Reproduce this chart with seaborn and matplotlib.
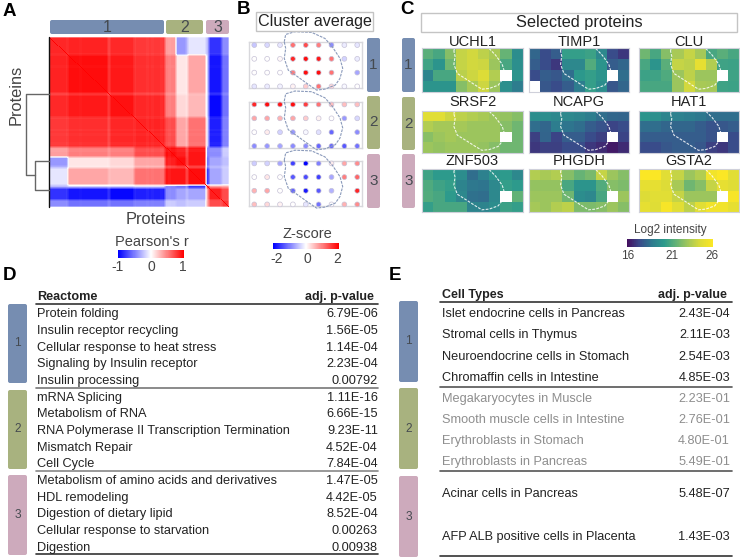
import numpy as np
import pandas as pd
import seaborn as sns
import matplotlib.pyplot as plt
from matplotlib.colors import LinearSegmentedColormap
from matplotlib.patches import FancyBboxPatch, Rectangle

sns.set_theme(style="white")
plt.rcParams['font.family'] = ['Liberation Sans', 'DejaVu Sans']

W, H = 740, 558
BLUE, GREEN, PINK = "#6f87ad", "#a4ae78", "#cba6b9"
CLUSTER_COLORS = [BLUE, GREEN, PINK]
TXT = "#222222"
INTENSITY = LinearSegmentedColormap.from_list(
    "intensity", ["#440f5f", "#3a4a8a", "#2d7a8e", "#2c9a8c", "#62b277", "#a2c75a", "#dcdc38", "#fbe725"])

# panel A: correlation by block, upper triangle of a symmetric matrix
seg_cells = [19, 41, 25, 31, 11, 12, 18, 3, 13, 7]
seg_corr = [
    [.85, .86, .84, .78, .38, -.40, -.10, -.30, -.80, -.45],
    [0, .95, .90, .82, .50, .10, .35, -.20, -.92, -.55],
    [0, 0, .93, .85, .50, .15, .28, -.20, -.97, -.55],
    [0, 0, 0, .86, .70, .35, .55, -.15, -.88, -.50],
    [0, 0, 0, 0, .95, .88, .92, -.50, -.45, -.20],
    [0, 0, 0, 0, 0, .95, .92, -.60, -.35, -.25],
    [0, 0, 0, 0, 0, 0, .95, -.85, -.35, -.20],
    [0, 0, 0, 0, 0, 0, 0, 1.0, .40, .35],
    [0, 0, 0, 0, 0, 0, 0, 0, .88, .70],
    [0, 0, 0, 0, 0, 0, 0, 0, 0, .78],
]
# proteins that correlate weakly with everything (the pale stripes)
pale_cells = [18, 31, 59, 60, 85, 98, 103, 112, 120, 137, 138, 157, 172]
pale_factor = [.9, .95, .8, .8, .88, .9, .92, .92, .88, .7, .7, .75, .85]

# panel B: mean z-score per spot, rows x columns
z_cluster1 = [[-.45, -.3, -.2, 1.1, 1.4, 1.0, -.9, -.15, -.2],
              [0, 0, .05, 1.7, 1.9, 1.8, 1.1, -.35, -.15],
              [0, 0, 0, 1.0, 1.9, 1.9, 1.1, np.nan, -.7],
              [-.2, -.15, -.1, .1, .4, 1.1, .3, -.05, 0]]
z_cluster2 = [[1.7, 1.9, 1.8, 1.9, 1.5, 1.1, .5, .5, .5],
              [.7, .7, .6, .7, .4, .1, 0, -.8, -.3],
              [0, .15, -.35, -.8, -.05, -.25, -1.2, np.nan, -.9],
              [-.9, -.8, -.7, -.9, -.9, -1.2, -1.2, -1.3, -1.1]]
z_cluster3 = [[-.4, -.35, -.7, -1.5, -2, -1, .15, .7, .9],
              [0, .2, 0, -1.3, -1.4, -1.5, -.7, 1.0, 1.2],
              [.6, .7, 0, -1.2, -1.8, -1.3, -.6, np.nan, 1.7],
              [.5, .3, .1, 0, -.2, -1.1, 0, .6, .9]]
z_clusters = [z_cluster1, z_cluster2, z_cluster3]

# outline of the tissue region, in spot units (column, row)
blob_col = [2.33, 2.44, 3.16, 4.46, 5.49, 6.06, 6.66, 6.87, 6.66, 6.3, 5.5, 4.84, 4.2, 3.55, 2.64, 2.33, 2.44, 2.33]
blob_row = [-.24, -.77, -.97, -.92, -.48, .12, .97, 1.69, 2.42, 2.9, 3.2, 3.27, 2.86, 2.42, 1.82, .97, .24, -.24]

# panel C: log2 intensity of selected proteins
n = np.nan
protein_names = ["UCHL1", "TIMP1", "CLU", "SRSF2", "NCAPG", "HAT1", "ZNF503", "PHGDH", "GSTA2"]
protein_values = [
    [[21.5, 21, 22.5, 24, 24.3, 23.8, 23.3, 21.8, 19.7],
     [20.8, 20, 22, 24, 24.3, 24.2, 23, 21, 19.8],
     [19.3, 21, 21, 23.7, 24.2, 24.6, 23.5, n, 20],
     [20, 20, 20, 22.5, 23.3, 24.2, 23, 19.8, 19]],
    [[18.3, 17.5, 18, 20.5, 20.5, 20.7, 19.5, 17.5, 17],
     [18, 17.5, 17, 19.5, 19.5, 21.3, 20, 18, 18.3],
     [17.5, 18, 17.8, 18.5, 20.2, 20.5, 20, n, 18.5],
     [n, 17.8, 17.5, 18, 19, 20.5, 19.7, 17.8, 18.3]],
    [[22, 21, 22.5, 23.3, 24, 23.2, 21, 21.5, 21],
     [21, 20, 21.5, 24, 23.8, 25, 23.5, 20.8, 20.7],
     [20.7, 20.8, 21.2, 23, 23.8, 23, 23, n, 20.8],
     [21, 21, 21, 23, 24.3, 23.3, 23.2, 20.8, 20.7]],
    [[24.8, 24.8, 24.2, 23.8, 23.5, 23.3, 23, 22.8, 22.5],
     [23.5, 23.2, 23.2, 23.2, 23, 23, 23, 22.5, 22],
     [22.6, 23, 23.2, 23, 23, 23, 23, n, 22],
     [23, 22.8, 23, 23, 23, 22.8, 22.5, 22, 22]],
    [[19.7, 19.7, 19.5, 19.5, 19.3, 19, 18.5, 18.3, 18.2],
     [18.5, 18.3, 19, 18.7, 18.5, 18, 17.7, 17.3, 17.5],
     [17.2, 18.2, 17.3, 18, 18, 17.5, 17.2, n, 17.3],
     [17, 17.2, 17.2, 17.5, 17.5, 17, 16.7, 16.3, 16.7]],
    [[20, 19.8, 19.3, 19.2, 19, 18.8, 18.5, 18.5, 18.5],
     [18.5, 18.5, 18.3, 18.3, 18.3, 18, 17.7, 17.8, 18],
     [18, 18, 18, 18, 18, 18, 17.7, n, 17.5],
     [17.5, 17.5, 17.8, 18, 18, 17.8, 17.2, 17, 17.5]],
    [[20.8, 20.3, 20.3, 19.7, 18.5, 19.2, 20, 20.3, 19.5],
     [21.2, 20.8, 20.5, 19.3, 18.8, 18.7, 19.5, 20.5, 20.3],
     [21.3, 21, 20.3, 19.5, 18.6, 18.5, 19.5, n, 21.7],
     [20.5, 21, 21, 21, 19.3, 19.3, 19.7, 20.7, 20.5]],
    [[23.5, 23.3, 23.5, 22.5, 21.8, 22.2, 24, 23, 22.5],
     [22.8, 22.8, 22.8, 21, 20, 20, 21.3, 22.5, 22.3],
     [23, 23, 23, 22, 19.7, 19.5, 21, n, 23],
     [23.2, 23, 23.5, 23.8, 22.3, 22.3, 22.5, 23, 22.5]],
    [[26, 26, 24.8, 24, 23, 23.5, 25.6, 26, 24.8],
     [25, 25, 24.6, 23.3, 22, 22.5, 24, 25, 24.7],
     [24.6, 24.8, 24.8, 24, 23, 23, 23, n, 25.8],
     [25, 24.7, 25.8, 24.8, 23.8, 24.8, 25.5, 25.5, 25]],
]

# panel D
reactome_terms = ["Protein folding", "Insulin receptor recycling", "Cellular response to heat stress",
                  "Signaling by Insulin receptor", "Insulin processing", "mRNA Splicing", "Metabolism of RNA",
                  "RNA Polymerase II Transcription Termination", "Mismatch Repair", "Cell Cycle",
                  "Metabolism of amino acids and derivatives", "HDL remodeling", "Digestion of dietary lipid",
                  "Cellular response to starvation", "Digestion"]
reactome_p = ["6.79E-06", "1.56E-05", "1.14E-04", "2.23E-04", "0.00792", "1.11E-16", "6.66E-15", "9.23E-11",
              "4.52E-04", "7.84E-04", "1.47E-05", "4.42E-05", "8.52E-04", "0.00263", "0.00938"]

# panel E
cell_types = ["Islet endocrine cells in Pancreas", "Stromal cells in Thymus", "Neuroendocrine cells in Stomach",
              "Chromaffin cells in Intestine", "Megakaryocytes in Muscle", "Smooth muscle cells in Intestine",
              "Erythroblasts in Stomach", "Erythroblasts in Pancreas", "Acinar cells in Pancreas",
              "AFP ALB positive cells in Placenta"]
cell_p = ["2.43E-04", "2.11E-03", "2.54E-03", "4.85E-03", "2.23E-01", "2.76E-01", "4.80E-01", "5.49E-01",
          "5.48E-07", "1.43E-03"]
cell_y = [314, 335.3, 356.7, 377.7, 399, 420, 441.3, 462.3, 494.3, 536.7]


def px_axes(x0, y0, x1, y1):
    return fig.add_axes([x0 / W, 1 - y1 / H, (x1 - x0) / W, (y1 - y0) / H])


def cluster_bar(x0, y0, x1, y1, label, color, fs=10.5, label_y=None):
    over.add_patch(FancyBboxPatch((x0, y0), x1 - x0, y1 - y0, boxstyle="round,pad=0,rounding_size=2",
                                  fc=color, ec="none", alpha=.95))
    over.text((x0 + x1) / 2, label_y if label_y else (y0 + y1) / 2, label, ha="center", va="center",
              fontsize=fs, color="#454a50")


def colorbar(x0, y0, x1, y1, cmap):
    ax = px_axes(x0, y0, x1, y1)
    sns.heatmap(np.linspace(0, 1, 128)[None, :], cmap=cmap, vmin=0, vmax=1, cbar=False, ax=ax,
                xticklabels=False, yticklabels=False)


fig = plt.figure(figsize=(W / 100, H / 100), dpi=100)

# panel A
seg_corr = np.array(seg_corr)
seg_corr = np.triu(seg_corr) + np.triu(seg_corr, 1).T
corr = np.repeat(np.repeat(seg_corr, seg_cells, axis=0), seg_cells, axis=1)
for cell, f in zip(pale_cells, pale_factor):
    corr[cell, :] *= f
    corr[:, cell] *= f
# source panel is soft, so blur block edges a little
kernel = np.ones(3) / 3
corr = np.apply_along_axis(lambda r: np.convolve(r, kernel, mode="same"), 0, corr)
corr = np.apply_along_axis(lambda r: np.convolve(r, kernel, mode="same"), 1, corr)
np.fill_diagonal(corr, 1)
ax = px_axes(49, 37, 229, 207)
sns.heatmap(corr, cmap="bwr", vmin=-1, vmax=1, cbar=False, ax=ax, xticklabels=False, yticklabels=False)
colorbar(118, 250, 184, 258, "bwr")

# panel B
for k, z in enumerate(z_clusters):
    top, bottom = [(42.3, 88.3), (101.7, 148), (160.7, 206.3)][k]
    ax = px_axes(249, top, 362, bottom)
    df = pd.DataFrame(z).reset_index().melt(id_vars="index", var_name="col", value_name="z").dropna()
    df["col"] = df["col"].astype(int)
    sns.scatterplot(data=df, x="col", y="index", hue="z", palette="bwr", hue_norm=(-2, 2), s=12,
                    edgecolor="#c6c2d6", linewidth=.5, legend=False, ax=ax, clip_on=False, zorder=3)
    ax.set_xlim(-.41, 8.37)
    ax.set_ylim(3.14, -.2)
    ax.set(xlabel="", ylabel="", xticks=[], yticks=[])
    ax.patch.set_alpha(0)
    for s in ax.spines.values():
        s.set_visible(True)
        s.set_color("#d8d8dc")
        s.set_linewidth(1)
    ax.plot(blob_col, blob_row, color="#8a9abb", lw=.8, ls=(0, (2.5, 1)), clip_on=False, zorder=4)
colorbar(273, 243, 339, 249, "bwr")

# panel C
col_x = [(422.3, 522.7), (529, 629.3), (639, 739.3)]
row_y = [(48.3, 91.7), (111, 152.7), (169.3, 212.3)]
for i, (name, values) in enumerate(zip(protein_names, protein_values)):
    x0, x1 = col_x[i % 3]
    y0, y1 = row_y[i // 3]
    ax = px_axes(x0, y0, x1, y1)
    sns.heatmap(np.array(values), cmap=INTENSITY, vmin=16, vmax=26, cbar=False, ax=ax,
                xticklabels=False, yticklabels=False)
    ax.plot(np.array(blob_col) + .5, np.array(blob_row) + .5, color="white", lw=.8, ls=(0, (2.5, 1.2)), alpha=.85)
    for s in ax.spines.values():
        s.set_visible(True)
        s.set_color("#cfd0da")
        s.set_linewidth(.8)
colorbar(627, 239, 713, 247, INTENSITY)

# everything in figure pixels from here on
over = fig.add_axes([0, 0, 1, 1], zorder=10)
over.set_xlim(0, W)
over.set_ylim(H, 0)
over.axis("off")

for label, x, y in [("A", 3, 12), ("B", 237, 9), ("C", 400, 9), ("D", 3, 275), ("E", 389, 275)]:
    over.text(x, y, label, fontsize=13.5, fontweight="bold", color="black", va="center")

# A decorations
for (x0, x1), name, c in zip([(50, 164), (166, 203), (206, 229)], "123", CLUSTER_COLORS):
    cluster_bar(x0, 20, x1, 34, name, c, fs=11.5)
over.plot([49, 49], [37, 207], color="#111111", lw=1)
dend = [([49, 26, 26, 35], [94, 94, 175, 175]),
        ([49, 35, 35, 49], [161, 161, 190, 190])]
for xs, ys in dend:
    over.plot(xs, ys, color="#666666", lw=1)
over.text(156, 220, "Proteins", fontsize=11.8, color="#444444", ha="center", va="center")
over.text(16, 95, "Proteins", fontsize=11.8, color="#444444", ha="center", va="center", rotation=90)
over.text(152, 242, "Pearson's r", fontsize=10.5, color="#444444", ha="center", va="center")
for tick, x in zip(["-1", "0", "1"], [118, 151, 183]):
    over.text(x, 267, tick, fontsize=10, color="#444444", ha="center", va="center")

# B decorations
over.add_patch(Rectangle((256, 12), 117, 19, fc="white", ec="#c4c4c4", lw=1))
over.text(314.5, 21.5, "Cluster average", fontsize=11.6, color=TXT, ha="center", va="center")
for (y0, y1), name, c in zip([(38, 92), (96, 149), (154, 208)], "123", CLUSTER_COLORS):
    cluster_bar(367, y0, 380, y1, name, c, fs=11)
over.text(307, 234, "Z-score", fontsize=10.5, color="#444444", ha="center", va="center")
for tick, x in zip(["-2", "0", "2"], [277, 307, 337]):
    over.text(x, 259, tick, fontsize=10, color="#444444", ha="center", va="center")

# C decorations
over.add_patch(Rectangle((421, 13), 316, 19, fc="white", ec="#c4c4c4", lw=1))
over.text(579, 22.5, "Selected proteins", fontsize=11.8, color=TXT, ha="center", va="center")
for (y0, y1), name, c in zip([(38, 92), (97, 150), (154, 208)], "123", CLUSTER_COLORS):
    cluster_bar(402, y0, 415, y1, name, c, fs=11)
for i, name in enumerate(protein_names):
    x0, x1 = col_x[i % 3]
    over.text((x0 + x1) / 2, [42, 102, 161][i // 3], name, fontsize=10.5, color=TXT, ha="center", va="center")
over.text(670, 229.5, "Log2 intensity", fontsize=8.5, color="#444444", ha="center", va="center")
for tick, x in zip(["16", "21", "26"], [628, 672, 712]):
    over.text(x, 256, tick, fontsize=8.5, color="#444444", ha="center", va="center")

# D table
over.text(37, 297, "Reactome", fontsize=9.1, fontweight="bold", color=TXT, va="center")
over.text(374, 297, "adj. p-value", fontsize=9, fontweight="bold", color=TXT, va="center", ha="right")
for i, (term, p) in enumerate(zip(reactome_terms, reactome_p)):
    y = 314.3 + i * 16.67
    over.text(37, y, term, fontsize=9.2, color=TXT, va="center")
    over.text(378, y, p, fontsize=9.2, color=TXT, va="center", ha="right")
for y, c, lw in [(304, "#333333", 1.2), (387.7, "#777777", 1.2), (471, "#888888", 1.2), (554, "#333333", 1.2)]:
    over.plot([36, 378], [y, y], color=c, lw=lw)
for (y0, y1), name, c in zip([(304, 383), (390, 469), (475, 555)], "123", CLUSTER_COLORS):
    cluster_bar(8, y0, 27, y1, name, c, fs=8.6)

# E table
over.text(442, 295, "Cell Types", fontsize=9, fontweight="bold", color=TXT, va="center")
over.text(727, 295, "adj. p-value", fontsize=9, fontweight="bold", color=TXT, va="center", ha="right")
for i, (term, p, y) in enumerate(zip(cell_types, cell_p, cell_y)):
    color = "#8e8e8e" if 4 <= i <= 7 else TXT
    over.text(442, y, term, fontsize=9.2, color=color, va="center")
    over.text(730, y, p, fontsize=9.2, color=color, va="center", ha="right")
for y, c in [(302, "#333333"), (387, "#555555"), (471, "#555555"), (556, "#333333")]:
    over.plot([440, 732], [y, y], color=c, lw=1.2)
for (y0, y1), name, c in zip([(301, 382), (388, 469), (476, 557)], "123", CLUSTER_COLORS):
    cluster_bar(399, y0, 418, y1, name, c, fs=8.6)

fig.savefig("out.png", dpi=100)
